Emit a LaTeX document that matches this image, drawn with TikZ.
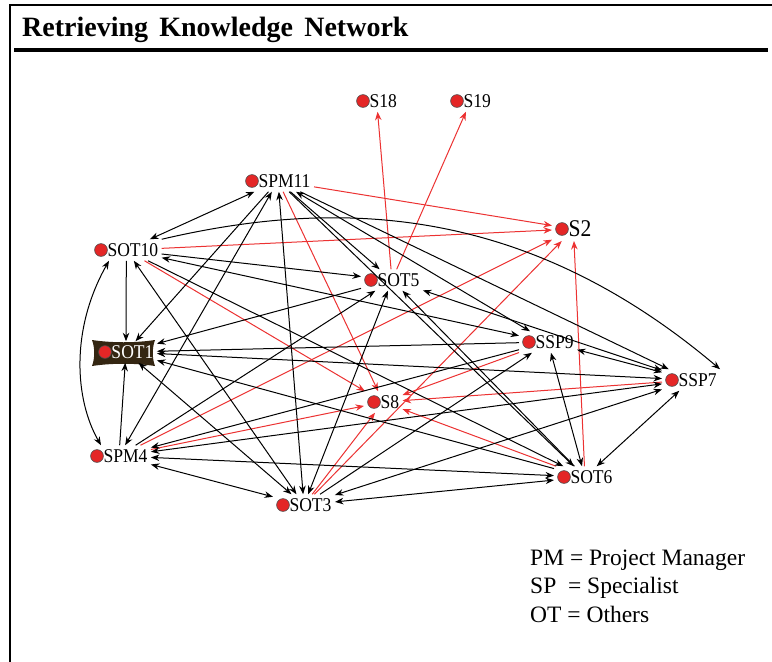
\documentclass[tikz,border=0pt]{standalone}
\usepackage{fontspec}
\setmainfont{Liberation Serif}
\newfontfamily\labfont{Liberation Serif}[FakeStretch=0.9]
\usetikzlibrary{arrows.meta}
\definecolor{nodered}{RGB}{228,38,38}
\definecolor{linered}{RGB}{236,50,50}
\definecolor{boxbrown}{RGB}{52,38,18}

\begin{document}
\begin{tikzpicture}[x=1pt,y=-1pt,
  ent/.style={anchor=west, inner xsep=0.5pt, inner ysep=1.5pt,
    text height=12.5pt, text depth=0pt, outer sep=3pt,
    font=\labfont\fontsize{19.5}{20}\selectfont,
    path picture={\filldraw[fill=nodered,draw=black!70,line width=0.6pt]
      ([xshift=7pt]path picture bounding box.west) circle (6.4pt);}},
  big/.style={ent, text height=15pt, font=\labfont\fontsize{24}{26}\selectfont},
  keytext/.style={anchor=base west, inner sep=0pt, font=\fontsize{23.5}{26}\selectfont},
  tip/.tip={Stealth[length=8.5pt,width=6.5pt]},
  lk/.style={draw=black, line width=1pt, -tip},
  bi/.style={draw=black, line width=1pt, tip-tip},
  rk/.style={draw=linered, line width=1pt, -tip},
]
\useasboundingbox (0,0) rectangle (772,662);
\fill[white] (0,0) rectangle (772,662);

% frame and title
\draw[line width=2pt] (10,662) -- (10,4.5) -- (772,4.5);
\draw[line width=4pt] (14,50) -- (768,50);
\node[anchor=base west, inner sep=0pt, font=\fontsize{28}{30}\bfseries\selectfont] (title) at (22,36)
  {Retrieving\hspace{0.4em}Knowledge\hspace{0.4em}Network};

% brown box behind SOT1
\fill[boxbrown] (92,340) .. controls (112,343) and (135,343) .. (155,340)
  .. controls (152,348) and (152,358) .. (155,366)
  .. controls (135,363) and (112,363) .. (92,366)
  .. controls (95,358) and (95,348) .. (92,340) -- cycle;

% actors
\node[ent] (s18)   at (353,101) {\hspace*{13pt}S18};
\node[ent] (s19)   at (447,101) {\hspace*{13pt}S19};
\node[ent] (spm11) at (242,181) {\hspace*{13pt}SPM11};
\node[ent] (sot10) at (91,250)  {\hspace*{13pt}SOT10};
\node[big] (s2)    at (552,229) {\hspace*{13pt}S2};
\node[ent] (sot5)  at (361,280) {\hspace*{13pt}SOT5};
\node[ent, text=white] (sot1) at (95,352) {\hspace*{13pt}SOT1};
\node[ent] (ssp9)  at (519,342) {\hspace*{13pt}SSP9};
\node[ent] (ssp7)  at (662,380) {\hspace*{13pt}SSP7};
\node[ent] (s8)    at (364,402) {\hspace*{13pt}S8};
\node[ent] (spm4)  at (87,456)  {\hspace*{13pt}SPM4};
\node[ent] (sot6)  at (554,477) {\hspace*{13pt}SOT6};
\node[ent] (sot3)  at (273,505) {\hspace*{13pt}SOT3};

% red ties
\draw[rk] (sot5) -- (s18);
\draw[rk] (sot5) -- (s19);
\draw[rk] (spm11) -- (s2);
\draw[rk] (sot10) -- (s2);
\draw[rk] (spm11) -- (s8);
\draw[rk] (sot10) -- (s8);
\draw[rk] (spm4) -- (s2);
\draw[rk] (spm4) -- (s8);
\draw[rk] (sot3) -- (s8);
\draw[rk] (sot3) -- (s2);
\draw[rk] (ssp9) -- (s8);
\draw[rk] (ssp7) -- (s8);
\draw[rk] (sot6) -- (s8);
\draw[rk] (sot6) -- (s2);

% black ties
\draw[bi] (sot10) -- (spm11);
\draw[lk] (sot10) -- (sot1);
\draw[lk] (sot10) -- (sot5);
\draw[bi] (sot10) -- (ssp9);
\draw[lk] (sot10.north east) .. controls (330,200) and (520,200) .. (ssp7.north east);
\draw[bi] (sot10) -- (sot3);
\draw[lk] (sot10) -- (sot6);
\draw[bi] ([xshift=18pt]sot10.south west) .. controls (70,330) and (75,400) .. ([xshift=14pt]spm4.north west);
\draw[lk] (spm11) -- (sot1);
\draw[bi] (spm11) -- (spm4);
\draw[bi] (spm11) -- (sot3);
\draw[lk] (spm11) -- (sot5);
\draw[bi] (spm11) -- (ssp9);
\draw[lk] (spm11) -- (ssp7);
\draw[lk] (spm11) -- (sot6);
\draw[lk] (sot5) -- (sot1);
\draw[lk] (spm4) -- (sot5);
\draw[bi] (sot5) -- (sot3);
\draw[lk] (sot6) -- (sot5);
\draw[bi] (sot5) -- (ssp7);
\draw[lk] (ssp9) -- (sot1);
\draw[bi] (ssp7) -- (sot1);
\draw[lk] (spm4) -- (sot1);
\draw[bi] (sot3) -- (sot1);
\draw[lk] (sot6) -- (sot1);
\draw[bi] (spm4) -- (sot3);
\draw[lk] (ssp9) -- (spm4);
\draw[bi] (ssp7) -- (spm4);
\draw[bi] (sot6) -- (spm4);
\draw[lk] (sot3) -- (ssp9);
\draw[bi] (sot3) -- (ssp7);
\draw[bi] (sot3) -- (sot6);
\draw[bi] (sot6) -- (ssp9);
\draw[bi] (sot6) -- (ssp7);
\draw[bi] (ssp7) -- (ssp9);

% key
\node[keytext] (key1) at (530,565) {PM = Project Manager};
\node[keytext] (key2) at (530,593.5) {SP\ \ = Specialist};
\node[keytext] (key3) at (530,622) {OT = Others};
\end{tikzpicture}
\end{document}
